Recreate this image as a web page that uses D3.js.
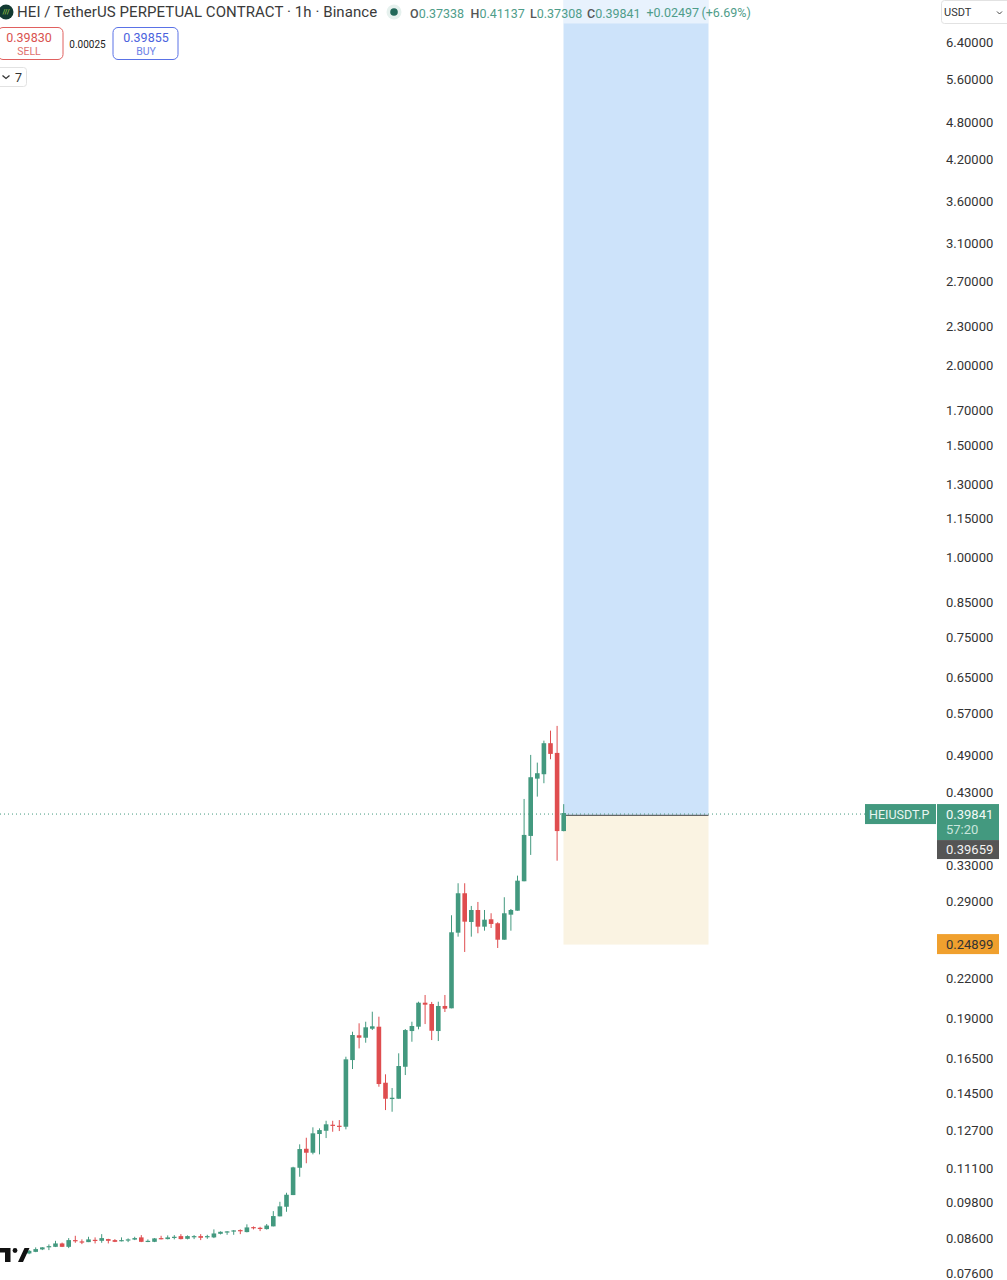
<!DOCTYPE html>
<html>
<head>
<meta charset="utf-8">
<title>HEIUSDT.P</title>
<script src="https://cdn.jsdelivr.net/npm/d3@7"></script>
<style>
    html, body { margin: 0; padding: 0; background: #fff; overflow: hidden; }
    text { font-family: Roboto, "Open Sans", sans-serif; }
</style>
</head>
<body>
<svg id="chart" width="1007" height="1280"></svg>
<script>
const opens = [.08158,.08205,.08278,.08355,.08355,.08458,.08355,.08560,.08520,.08498,.08569,.08538,.08591,.08560,.08538,.08551,.08576,.08644,.08520,.08507,.08622,.08591,.08631,.08684,.08600,.08663,.08684,.08663,.08644,.08756,.08801,.08833,.08874,.08811,.08970,.08948,.08906,.08994,.09324,.09652,.10067,.11107,.11894,.11725,.12542,.12690,.12969,.12922,.12876,.16370,.17896,.17741,.18325,.18459,.15086,.14225,.14241,.15979,.18173,.18459,.20125,.20032,.18173,.19889,.19723,.25897,.29847,.26915,.28101,.26464,.27177,.26790,.25250,.27634,.28031,.31164,.36690,.45098,.45820,.51236,.49475,.37338];
const highs = [.08257,.08339,.08348,.08428,.08538,.08483,.08622,.08694,.08582,.08663,.08644,.08746,.08600,.08591,.08644,.08613,.08663,.08715,.08582,.08622,.08694,.08706,.08715,.08746,.08706,.08715,.08746,.08725,.08897,.08833,.08842,.08874,.08897,.09060,.08992,.08980,.09070,.09502,.09826,.10151,.11147,.12085,.12375,.12848,.12801,.13155,.13155,.13188,.16568,.18128,.18686,.18793,.19483,.19136,.15550,.14801,.16772,.18305,.18793,.20197,.20692,.20182,.20197,.20692,.27574,.30942,.30942,.28514,.28926,.28101,.27773,.26886,.29421,.28204,.31802,.41916,.49121,.47775,.51707,.53608,.54530,.41137];
const lows = [.08137,.08196,.08257,.08257,.08348,.08348,.08317,.08477,.08437,.08498,.08458,.08477,.08458,.08498,.08520,.08498,.08560,.08498,.08498,.08498,.08582,.08582,.08582,.08582,.08582,.08591,.08560,.08600,.08622,.08737,.08725,.08725,.08746,.08801,.08896,.08842,.08890,.08994,.09324,.09479,.10067,.10754,.11289,.11657,.11657,.12361,.12645,.12677,.12755,.15849,.17072,.17425,.18238,.14870,.13672,.13590,.14241,.15510,.17486,.18285,.18635,.17592,.17530,.19462,.19723,.25527,.24158,.25527,.25842,.26082,.26339,.24508,.25250,.26082,.28031,.31164,.34265,.42271,.44359,.48360,.33560,.37308];
const closes = [.08236,.08287,.08339,.08376,.08458,.08355,.08560,.08538,.08498,.08582,.08538,.08622,.08538,.08507,.08560,.08582,.08622,.08507,.08538,.08613,.08600,.08644,.08663,.08591,.08684,.08684,.08631,.08684,.08767,.08820,.08833,.08864,.08842,.08960,.08938,.08916,.09020,.09334,.09666,.10079,.11123,.11881,.11725,.12573,.12722,.12988,.12922,.12894,.16412,.17915,.17741,.18419,.18486,.15016,.14241,.14293,.16022,.18238,.18505,.20125,.19982,.18192,.19889,.19695,.25934,.29847,.26944,.28101,.26464,.27137,.26723,.25250,.27773,.28101,.31230,.36823,.45328,.45985,.51236,.49298,.37338,.39841];

const priceTicks = [6.4, 5.6, 4.8, 4.2, 3.6, 3.1, 2.7, 2.3, 2.0, 1.7, 1.5, 1.3, 1.15, 1.0, 0.85, 0.75, 0.65, 0.57, 0.49, 0.43, 0.33, 0.29, 0.22, 0.19, 0.165, 0.145, 0.127, 0.111, 0.098, 0.086, 0.076];

const lastPrice = 0.39841;
const entryPrice = 0.39659;
const stopPrice = 0.24899;
const targetPrice = 7.45;

const upColor = "#43997f";
const downColor = "#df4d4f";

const svg = d3.select("#chart");

// log price scale, fitted on the axis labels
const y = d3.scaleLog().domain([6.4, 0.076]).range([42, 42 + 277.7 * Math.log(6.4 / 0.076)]);
const x = d3.scaleLinear().domain([0, opens.length - 1]).range([29.1, 563.7]);
const toolX = d3.scaleLinear().domain([0, 1]).range([563.5, 708.5]);

// position tool
svg.append("rect")
    .attr("x", toolX(0)).attr("width", toolX(1) - toolX(0))
    .attr("y", y(targetPrice)).attr("height", y(entryPrice) - y(targetPrice) + 1)
    .attr("fill", "#cde3fa");
svg.append("rect")
    .attr("x", toolX(0)).attr("width", toolX(1) - toolX(0))
    .attr("y", y(entryPrice) + 1).attr("height", y(stopPrice) - y(entryPrice))
    .attr("fill", "#faf3e2");

// last price line
svg.append("line")
    .attr("x1", 0).attr("x2", 865)
    .attr("y1", y(lastPrice) + 1).attr("y2", y(lastPrice) + 1)
    .attr("stroke", upColor).attr("stroke-width", 1).attr("stroke-dasharray", "1 3");

svg.append("line")
    .attr("x1", toolX(0)).attr("x2", toolX(1))
    .attr("y1", y(entryPrice) + 1).attr("y2", y(entryPrice) + 1)
    .attr("stroke", "#666").attr("stroke-width", 1.2);

// candles
const candles = opens.map((o, i) => ({ i: i, o: o, h: highs[i], l: lows[i], c: closes[i] }));
const candleColor = d => d.c >= d.o ? upColor : downColor;

svg.selectAll(".wick")
    .data(candles)
    .join("line")
    .attr("class", "wick")
    .attr("x1", d => x(d.i)).attr("x2", d => x(d.i))
    .attr("y1", d => y(d.h)).attr("y2", d => y(d.l))
    .attr("stroke", candleColor)
    .attr("stroke-width", 1);

svg.selectAll(".body")
    .data(candles)
    .join("rect")
    .attr("class", "body")
    .attr("x", d => x(d.i) - 2.3)
    .attr("width", 4.6)
    .attr("y", d => y(Math.max(d.o, d.c)))
    .attr("height", d => Math.max(1.2, y(Math.min(d.o, d.c)) - y(Math.max(d.o, d.c))))
    .attr("fill", candleColor);

// watermark, cut off by the left edge
svg.append("path")
    .attr("d", "M0 1248h10.5v14h-5.5v-9.5h-5z M18 1262l6.5-14h5l-6.5 14z")
    .attr("fill", "#111");
svg.append("circle").attr("cx", 15).attr("cy", 1250.5).attr("r", 2.4).attr("fill", "#111");

// price axis
const axis = d3.axisRight(y)
    .tickValues(priceTicks)
    .tickSize(0)
    .tickPadding(0)
    .tickFormat(d => d.toFixed(5));
const axisG = svg.append("g")
    .attr("transform", "translate(946,0)")
    .call(axis);
axisG.select(".domain").remove();
axisG.selectAll("text")
    .attr("fill", "#333")
    .style("font-size", "13px")
    .style("font-family", "Roboto, sans-serif");

// price labels on the axis
function box(x0, y0, w, h, fill) {
    svg.append("rect").attr("x", x0).attr("y", y0).attr("width", w).attr("height", h).attr("fill", fill);
}
function label(tx, ty, str, size, fill, anchor) {
    return svg.append("text")
        .attr("x", tx).attr("y", ty)
        .attr("font-size", size)
        .attr("fill", fill)
        .attr("text-anchor", anchor || "start")
        .attr("dominant-baseline", "central")
        .text(str);
}

box(865, y(lastPrice) - 9, 71, 20, upColor);
label(869, y(lastPrice) + 1, "HEIUSDT.P", 12.5, "#e8f5f1");
box(937, y(lastPrice) - 9, 62, 36, upColor);
label(946, y(lastPrice) + 1, lastPrice.toFixed(5), 13, "#f2faf7");
label(946, y(lastPrice) + 16.5, "57:20", 13, "#c9e6dd");
box(937, y(lastPrice) + 27, 62, 19, "#555555");
label(946, y(lastPrice) + 36.5, entryPrice.toFixed(5), 13, "#f2f2f2");
box(937, y(stopPrice) - 9.5, 62, 20, "#f0a02e");
label(946, y(stopPrice) + 0.5, stopPrice.toFixed(5), 13, "#333");

// header
svg.append("rect").attr("x", 563.5).attr("y", 0).attr("width", 145).attr("height", 23.5).attr("fill", "#fff").attr("opacity", 0.55);
svg.append("circle").attr("cx", 6).attr("cy", 12).attr("r", 7.5).attr("fill", "#123a32");
label(6, 12, "///", 7, "#b8e04a", "middle");
label(17, 12, "HEI / TetherUS PERPETUAL CONTRACT · 1h · Binance", 15, "#3a3a3a").attr("letter-spacing", 0.08);
svg.append("circle").attr("cx", 394).attr("cy", 12).attr("r", 7.5).attr("fill", "#e6f1ee");
svg.append("circle").attr("cx", 394).attr("cy", 12).attr("r", 3.8).attr("fill", "#22695a");

const legendLetters = ["O", "H", "L", "C"];
const legendValues = ["0.37338", "0.41137", "0.37308", "0.39841"];
const legendStarts = [410, 470.5, 530, 587];
legendLetters.forEach((s, i) => {
    const t = label(legendStarts[i], 12.5, "", 12.5, "#4f9d8a");
    t.append("tspan").attr("fill", "#555").attr("font-weight", 500).text(s);
    t.append("tspan").text(legendValues[i]);
});
label(646.5, 12.5, "+0.02497", 12.5, "#4f9d8a");
label(701.5, 12.5, "(+6.69%)", 12.5, "#4f9d8a");

// currency selector
svg.append("rect").attr("x", 941.5).attr("y", 0.5).attr("width", 70).attr("height", 23).attr("rx", 3)
    .attr("fill", "#fff").attr("stroke", "#e2e2e2");
label(944, 12, "USDT", 11, "#333");
svg.append("path").attr("d", "M997 11.5l2.5 2.5 2.5-2.5").attr("fill", "none").attr("stroke", "#444");

// sell and buy buttons
svg.append("rect").attr("x", -2).attr("y", 27.5).attr("width", 65).attr("height", 32).attr("rx", 5)
    .attr("fill", "#fff").attr("stroke", "#e0605f");
label(29, 37, "0.39830", 12.5, "#d9534f", "middle");
label(29, 51, "SELL", 10.5, "#e0706e", "middle");
label(87.5, 44, "0.00025", 10, "#222", "middle");
svg.append("rect").attr("x", 113).attr("y", 27.5).attr("width", 65).attr("height", 32).attr("rx", 5)
    .attr("fill", "#fff").attr("stroke", "#5a72e6");
label(146, 37, "0.39855", 12.5, "#4a62dd", "middle");
label(146, 51, "BUY", 10.5, "#6c82e8", "middle");

// collapsed indicators
svg.append("rect").attr("x", -3).attr("y", 67.5).attr("width", 29.5).attr("height", 19).attr("rx", 3)
    .attr("fill", "#fff").attr("stroke", "#e2e2e2");
svg.append("path").attr("d", "M2.5 75.5l3.5 3 3.5-3").attr("fill", "none").attr("stroke", "#333").attr("stroke-width", 1.3);
label(15, 77, "7", 12.5, "#333");
</script>
</body>
</html>
